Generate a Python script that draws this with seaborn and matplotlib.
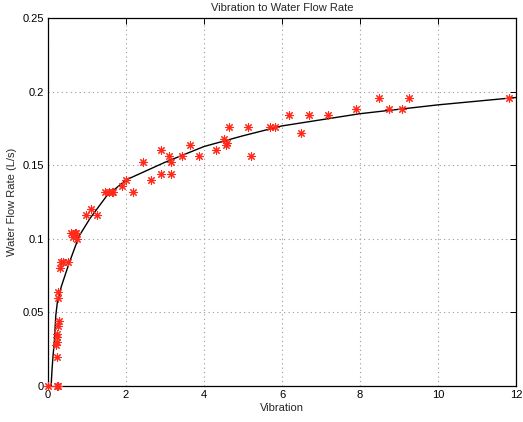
import matplotlib
matplotlib.use("Agg")

import matplotlib.pyplot as plt
import seaborn as sns
import pandas as pd

# ===========================
# Data
# ===========================

vibration = [
    0.0, 0.22, 0.26, 0.24, 0.20, 0.22, 0.24, 0.22, 0.25, 0.27,
    0.26, 0.26, 0.30, 0.34, 0.38, 0.51, 0.60, 0.64, 0.68, 0.72,
    0.74, 0.98, 1.11, 1.26, 1.46, 1.57, 1.63, 1.67, 1.91, 1.99,
    2.19, 2.44, 2.64, 2.89, 2.89, 3.10, 3.15, 3.15, 3.43, 3.64,
    3.88, 4.31, 4.52, 4.56, 4.60, 4.65, 5.12, 5.20, 5.69, 5.82,
    6.19, 6.49, 6.68, 7.19, 7.91, 8.49, 8.75, 9.08, 9.26, 11.83,
]
flow_rate = [
    0.0, 0.0, 0.0, 0.020, 0.028, 0.030, 0.033, 0.035, 0.041, 0.044,
    0.060, 0.064, 0.080, 0.084, 0.084, 0.084, 0.104, 0.101, 0.104, 0.104,
    0.100, 0.116, 0.120, 0.116, 0.132, 0.132, 0.132, 0.132, 0.136, 0.140,
    0.132, 0.152, 0.140, 0.144, 0.160, 0.156, 0.152, 0.144, 0.156, 0.164,
    0.156, 0.160, 0.168, 0.164, 0.165, 0.176, 0.176, 0.156, 0.176, 0.176,
    0.184, 0.172, 0.184, 0.184, 0.188, 0.196, 0.188, 0.188, 0.196, 0.196,
]

# fitted curve
curve_x = [0.08, 0.10, 0.13, 0.16, 0.20, 0.24, 0.34, 0.54, 0.80, 1.08,
           1.5, 2.0, 3.0, 4.0, 5.0, 6.0, 8.0, 10.0, 12.0]
curve_y = [0.0, 0.010, 0.021, 0.029, 0.048, 0.057, 0.0675, 0.0834, 0.102, 0.114,
           0.129, 0.140, 0.152, 0.1627, 0.170, 0.1767, 0.185, 0.191, 0.196]

x_ticks = [0, 2, 4, 6, 8, 10, 12]
y_ticks = [0, 0.05, 0.1, 0.15, 0.2, 0.25]
y_tick_labels = ["0", "0.05", "0.1", "0.15", "0.2", "0.25"]

points = pd.DataFrame({"vibration": vibration, "flow": flow_rate})
curve = pd.DataFrame({"x": curve_x, "y": curve_y})

# ===========================
# Chart Style
# ===========================

sns.set_style("white")
plt.rcParams["font.family"] = ["Liberation Sans", "DejaVu Sans"]
plt.rcParams["font.size"] = 8

fig = plt.figure(figsize=(5.23, 4.22), dpi=100)
ax = fig.add_axes([0.0918, 0.0853, 0.8948, 0.872])

sns.lineplot(
    data=curve, x="x", y="y",
    color="black", linewidth=1.0,
    sort=False, estimator=None, ax=ax, zorder=2
)

sns.scatterplot(
    data=points, x="vibration", y="flow",
    marker=(8, 2, 0), s=30, color="#ff2a1a",
    linewidth=0.8, ax=ax, zorder=3, clip_on=False
)

ax.set_xlim(0, 12)
ax.set_ylim(0, 0.25)
ax.set_xticks(x_ticks)
ax.set_yticks(y_ticks)
ax.set_yticklabels(y_tick_labels)

ax.grid(True, linestyle=(0, (1, 3)), color="#9a9a9a", linewidth=0.8)
ax.tick_params(direction="in", top=True, right=True, length=4,
               width=0.7, labelsize=8, pad=3, colors="black")
for side in ax.spines.values():
    side.set_color("black")
    side.set_linewidth(0.9)

ax.set_xlabel("Vibration", fontsize=8, labelpad=2)
ax.set_ylabel("Water Flow Rate (L/s)", fontsize=8, labelpad=4)
ax.set_title("Vibration to Water Flow Rate", fontsize=8, pad=5)

fig.savefig("out.png", dpi=100)
plt.close()
